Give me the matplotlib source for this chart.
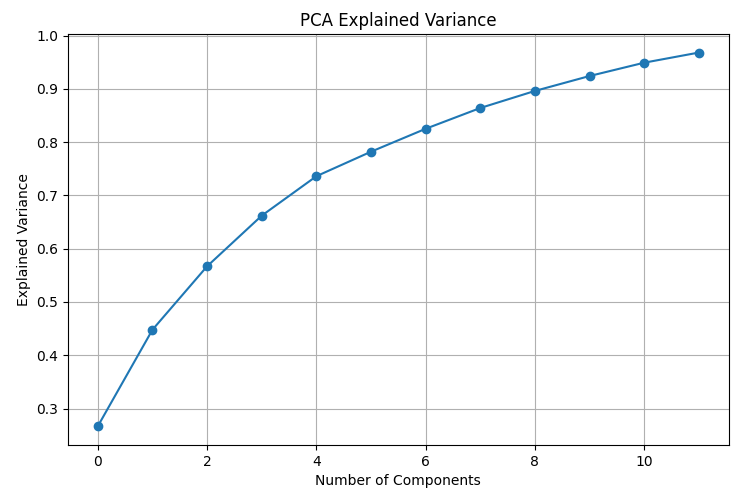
import matplotlib
matplotlib.use('Agg')
import matplotlib.pyplot as plt

# cumulative explained variance
components = list(range(12))
explained = [0.267, 0.448, 0.567, 0.662, 0.736, 0.782, 0.825, 0.864, 0.896, 0.924, 0.949, 0.968]

fig, ax = plt.subplots(figsize=(7.37, 4.91), dpi=100)
ax.plot(components, explained, marker='o')
ax.set_xlabel('Number of Components')
ax.set_ylabel('Explained Variance')
ax.set_title('PCA Explained Variance')
ax.grid(True)
fig.subplots_adjust(left=0.092, right=0.989, top=0.931, bottom=0.094)
fig.savefig('out.png')
